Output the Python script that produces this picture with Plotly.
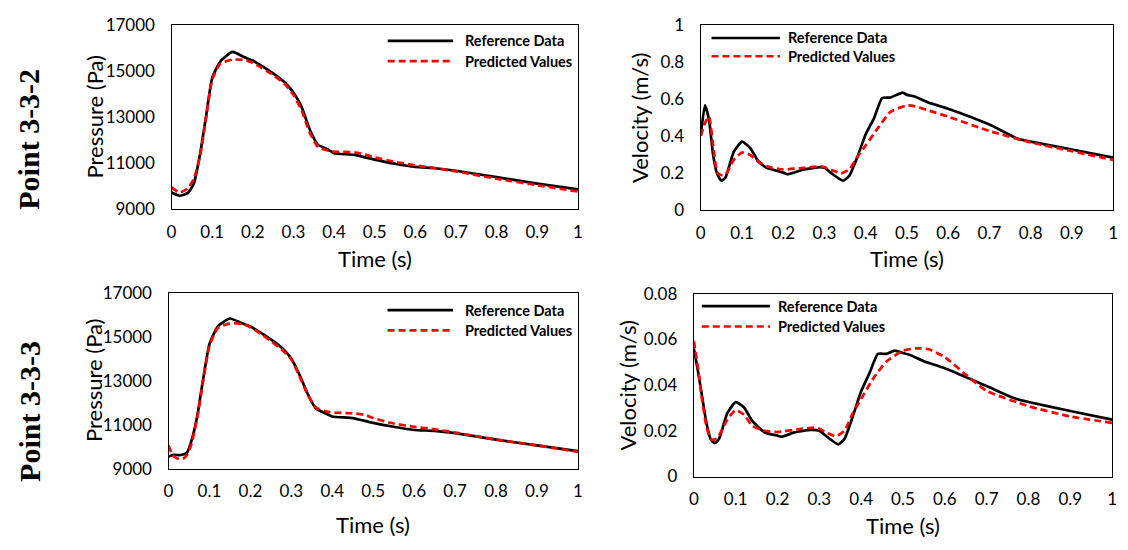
import plotly.graph_objects as go

# ---------------- data ----------------
# Point 3-3-2, pressure
p332_ref_t = [0, 0.02, 0.04, 0.055, 0.07, 0.085, 0.1, 0.12, 0.15, 0.18, 0.2, 0.25, 0.28, 0.3, 0.32, 0.34, 0.36, 0.38, 0.4, 0.45, 0.5, 0.55, 0.6, 0.65, 0.7, 0.8, 0.9, 1.0]
p332_ref_v = [9723, 9584, 9696, 10113, 11365, 13035, 14704, 15428, 15845, 15609, 15470, 14913, 14496, 14078, 13452, 12478, 11810, 11643, 11435, 11365, 11157, 10976, 10837, 10781, 10670, 10392, 10113, 9863]
p332_pred_t = [0, 0.02, 0.04, 0.055, 0.07, 0.085, 0.1, 0.12, 0.15, 0.18, 0.2, 0.25, 0.28, 0.3, 0.32, 0.34, 0.36, 0.38, 0.4, 0.45, 0.47, 0.5, 0.55, 0.6, 0.65, 0.7, 0.8, 0.9, 1.0]
p332_pred_v = [9946, 9723, 9904, 10322, 11296, 12965, 14635, 15330, 15511, 15497, 15372, 14843, 14426, 13981, 13313, 12339, 11713, 11574, 11504, 11477, 11407, 11254, 11060, 10907, 10781, 10643, 10322, 10043, 9765]

# Point 3-3-2, velocity
v332_ref_t = [0, 0.01, 0.02, 0.03, 0.04, 0.05, 0.06, 0.08, 0.1, 0.12, 0.14, 0.16, 0.2, 0.21, 0.25, 0.29, 0.3, 0.32, 0.345, 0.36, 0.38, 0.4, 0.42, 0.44, 0.46, 0.49, 0.5, 0.52, 0.55, 0.6, 0.7, 0.77, 0.8, 0.9, 1.0]
v332_ref_v = [0.402, 0.567, 0.489, 0.298, 0.194, 0.159, 0.177, 0.315, 0.371, 0.336, 0.263, 0.229, 0.203, 0.194, 0.220, 0.232, 0.229, 0.194, 0.159, 0.185, 0.289, 0.411, 0.497, 0.607, 0.610, 0.636, 0.624, 0.614, 0.584, 0.549, 0.463, 0.385, 0.371, 0.328, 0.284]
v332_pred_t = [0, 0.01, 0.02, 0.03, 0.04, 0.05, 0.06, 0.08, 0.1, 0.12, 0.14, 0.16, 0.2, 0.25, 0.29, 0.3, 0.32, 0.34, 0.36, 0.38, 0.4, 0.43, 0.46, 0.5, 0.52, 0.55, 0.6, 0.7, 0.8, 0.9, 1.0]
v332_pred_v = [0.402, 0.471, 0.506, 0.350, 0.203, 0.189, 0.191, 0.272, 0.312, 0.298, 0.263, 0.237, 0.220, 0.229, 0.237, 0.232, 0.215, 0.199, 0.220, 0.289, 0.350, 0.445, 0.532, 0.567, 0.562, 0.541, 0.506, 0.428, 0.367, 0.319, 0.272]

# Point 3-3-3, pressure
p333_ref_t = [0, 0.01, 0.03, 0.045, 0.055, 0.07, 0.085, 0.1, 0.12, 0.15, 0.18, 0.2, 0.25, 0.28, 0.3, 0.32, 0.34, 0.36, 0.38, 0.4, 0.45, 0.5, 0.55, 0.6, 0.65, 0.7, 0.8, 0.9, 1.0]
p333_ref_v = [9555, 9628, 9628, 9730, 10212, 11380, 13131, 14664, 15467, 15832, 15613, 15467, 14883, 14445, 14007, 13277, 12401, 11745, 11555, 11380, 11307, 11088, 10912, 10766, 10723, 10620, 10328, 10066, 9803]
p333_pred_t = [0, 0.01, 0.02, 0.035, 0.045, 0.055, 0.07, 0.085, 0.1, 0.12, 0.15, 0.18, 0.2, 0.25, 0.28, 0.3, 0.32, 0.34, 0.36, 0.38, 0.4, 0.45, 0.48, 0.5, 0.55, 0.6, 0.65, 0.7, 0.8, 0.9, 1.0]
p333_pred_v = [10066, 9628, 9482, 9453, 9628, 10066, 11307, 13058, 14591, 15394, 15613, 15584, 15438, 14810, 14372, 13978, 13204, 12372, 11788, 11642, 11555, 11526, 11453, 11307, 11058, 10912, 10796, 10650, 10328, 10066, 9774]

# Point 3-3-3, velocity
v333_ref_t = [0, 0.01, 0.02, 0.03, 0.04, 0.05, 0.06, 0.08, 0.1, 0.12, 0.14, 0.17, 0.2, 0.21, 0.24, 0.28, 0.3, 0.32, 0.345, 0.36, 0.38, 0.4, 0.42, 0.44, 0.46, 0.48, 0.5, 0.52, 0.55, 0.6, 0.7, 0.77, 0.8, 0.9, 1.0]
v333_ref_v = [0.0561, 0.0460, 0.0347, 0.0235, 0.0164, 0.0146, 0.0164, 0.0277, 0.0326, 0.0302, 0.0242, 0.0193, 0.0179, 0.0174, 0.0193, 0.0204, 0.0200, 0.0172, 0.0141, 0.0164, 0.0263, 0.0373, 0.0453, 0.0537, 0.0537, 0.0551, 0.0541, 0.0530, 0.0505, 0.0474, 0.0396, 0.0340, 0.0326, 0.0287, 0.0249]
v333_pred_t = [0, 0.01, 0.02, 0.03, 0.04, 0.05, 0.06, 0.08, 0.1, 0.12, 0.14, 0.17, 0.2, 0.25, 0.29, 0.3, 0.32, 0.34, 0.36, 0.38, 0.4, 0.43, 0.46, 0.5, 0.53, 0.56, 0.6, 0.65, 0.7, 0.8, 0.9, 1.0]
v333_pred_v = [0.0593, 0.0474, 0.0333, 0.0221, 0.0164, 0.0162, 0.0179, 0.0249, 0.0291, 0.0270, 0.0221, 0.0200, 0.0195, 0.0207, 0.0214, 0.0209, 0.0190, 0.0176, 0.0200, 0.0277, 0.0340, 0.0432, 0.0502, 0.0551, 0.0561, 0.0558, 0.0523, 0.0446, 0.0375, 0.0308, 0.0263, 0.0235]

x_ticks = [0, 0.1, 0.2, 0.3, 0.4, 0.5, 0.6, 0.7, 0.8, 0.9, 1]
x_tick_text = ["0", "0.1", "0.2", "0.3", "0.4", "0.5", "0.6", "0.7", "0.8", "0.9", "1"]
p_ticks = [9000, 11000, 13000, 15000, 17000]
v1_ticks = [0, 0.2, 0.4, 0.6, 0.8, 1]
v1_tick_text = ["0", "0.2", "0.4", "0.6", "0.8", "1"]
v2_ticks = [0, 0.02, 0.04, 0.06, 0.08]
v2_tick_text = ["0", "0.02", "0.04", "0.06", "0.08"]

series_names = ["Reference Data", "Predicted Values"]
row_labels = ["Point 3-3-2", "Point 3-3-3"]
x_title = "Time (s)"
p_title = "Pressure (Pa)"
v_title = "Velocity (m/s)"

# ---------------- layout ----------------
W, H = 1128, 550
FONT = "Lato"
BLACK = "#000000"
RED = "#ff0000"

# pixel boxes of the plot areas: (left, right, top, bottom)
boxes = {
    1: (168, 578, 15, 206),
    2: (702, 1118, 15, 207),
    3: (165, 578, 293, 476),
    4: (695, 1117, 294, 484),
}

def dom(b):
    l, r, t, bt = b
    return [l / W, r / W], [1 - bt / H, 1 - t / H]

fig = go.Figure()

panels = [
    (1, p332_ref_t, p332_ref_v, p332_pred_t, p332_pred_v, [9000, 17000], p_ticks, [str(v) for v in p_ticks], p_title),
    (2, v332_ref_t, v332_ref_v, v332_pred_t, v332_pred_v, [0, 1], v1_ticks, v1_tick_text, v_title),
    (3, p333_ref_t, p333_ref_v, p333_pred_t, p333_pred_v, [9000, 17000], p_ticks, [str(v) for v in p_ticks], p_title),
    (4, v333_ref_t, v333_ref_v, v333_pred_t, v333_pred_v, [0, 0.08], v2_ticks, v2_tick_text, v_title),
]

# legend positions in axis-domain fractions: (line x0, line x1, text x, row1 y, row2 y)
legend_pos = {
    1: (0.532, 0.693, 0.717, 0.916, 0.806),
    2: (0.026, 0.192, 0.207, 0.932, 0.833),
    3: (0.535, 0.695, 0.719, 0.902, 0.787),
    4: (0.019, 0.182, 0.197, 0.932, 0.821),
}
# axis-title centres in pixels
ytitle_x = {1: 90, 2: 640, 3: 90, 4: 628}
xtitle_y = {1: 257, 2: 257, 3: 534, 4: 535}

annotations = []
shapes = []
for (i, rt, rv, pt, pv, yr, yt, ytt, ytitle) in panels:
    xd, yd = dom(boxes[i])
    sfx = "" if i == 1 else str(i)
    fig.add_trace(go.Scatter(x=rt, y=rv, mode="lines", name=series_names[0],
                             line=dict(color=BLACK, width=2.7, shape="spline", smoothing=0.5),
                             xaxis="x" + sfx, yaxis="y" + sfx, showlegend=False))
    fig.add_trace(go.Scatter(x=pt, y=pv, mode="lines", name=series_names[1],
                             line=dict(color=RED, width=2.7, dash="7px,4px", shape="spline", smoothing=0.5),
                             xaxis="x" + sfx, yaxis="y" + sfx, showlegend=False))
    axcommon = dict(showline=True, linecolor=BLACK, linewidth=1.3, mirror=True,
                    showgrid=False, zeroline=False, ticks="",
                    tickfont=dict(family=FONT, size=17, color=BLACK))
    fig.layout["xaxis" + sfx] = dict(domain=xd, range=[0, 1], tickvals=x_ticks, ticktext=x_tick_text,
                                     anchor="y" + sfx, ticklabelstandoff=7, **axcommon)
    fig.layout["yaxis" + sfx] = dict(domain=yd, range=yr, tickvals=yt, ticktext=ytt,
                                     anchor="x" + sfx, ticklabelstandoff=12, **axcommon)
    l, r, t, b = boxes[i]
    annotations.append(dict(text=x_title, x=(l + r) / 2 / W, y=1 - xtitle_y[i] / H, xref="paper", yref="paper",
                            showarrow=False, xanchor="center", yanchor="middle",
                            font=dict(family=FONT, size=22, color=BLACK)))
    annotations.append(dict(text=ytitle, x=ytitle_x[i] / W, y=1 - (t + b) / 2 / H, xref="paper", yref="paper",
                            showarrow=False, xanchor="center", yanchor="middle", textangle=-90,
                            font=dict(family=FONT, size=22, color=BLACK)))
    lx0, lx1, tx, ry1, ry2 = legend_pos[i]
    xref = "x" + sfx + " domain"
    yref = "y" + sfx + " domain"
    shapes.append(dict(type="line", xref=xref, yref=yref, x0=lx0, x1=lx1, y0=ry1, y1=ry1,
                       line=dict(color=BLACK, width=2.7)))
    shapes.append(dict(type="line", xref=xref, yref=yref, x0=lx0, x1=lx1, y0=ry2, y1=ry2,
                       line=dict(color=RED, width=2.7, dash="7px,4px")))
    for name, yy in zip(series_names, [ry1, ry2]):
        annotations.append(dict(text="<b>" + name + "</b>", x=tx, y=yy, xref=xref, yref=yref,
                                showarrow=False, xanchor="left", yanchor="middle",
                                font=dict(family=FONT, size=14.5, color=BLACK)))

# row labels
for lab, yc in zip(row_labels, [133, 416]):
    annotations.append(dict(text="<b>" + lab + "</b>", x=24 / W, y=1 - yc / H, xref="paper", yref="paper",
                            showarrow=False, xanchor="center", yanchor="middle", textangle=-90,
                            font=dict(family="Liberation Serif", size=30, color=BLACK)))

fig.update_layout(width=W, height=H, margin=dict(l=0, r=0, t=0, b=0),
                  paper_bgcolor="white", plot_bgcolor="white",
                  annotations=annotations, shapes=shapes, showlegend=False)

fig.write_html("out.html",
               config={"displayModeBar": False, "responsive": False},
               post_script=("document.documentElement.style.margin='0';"
                            "document.documentElement.style.overflow='hidden';"
                            "document.body.style.margin='0';"
                            "document.body.style.overflow='hidden';"
                            "var gd=document.getElementById('{plot_id}');"
                            "gd.style.position='fixed';gd.style.left='0px';gd.style.top='0px';"))
